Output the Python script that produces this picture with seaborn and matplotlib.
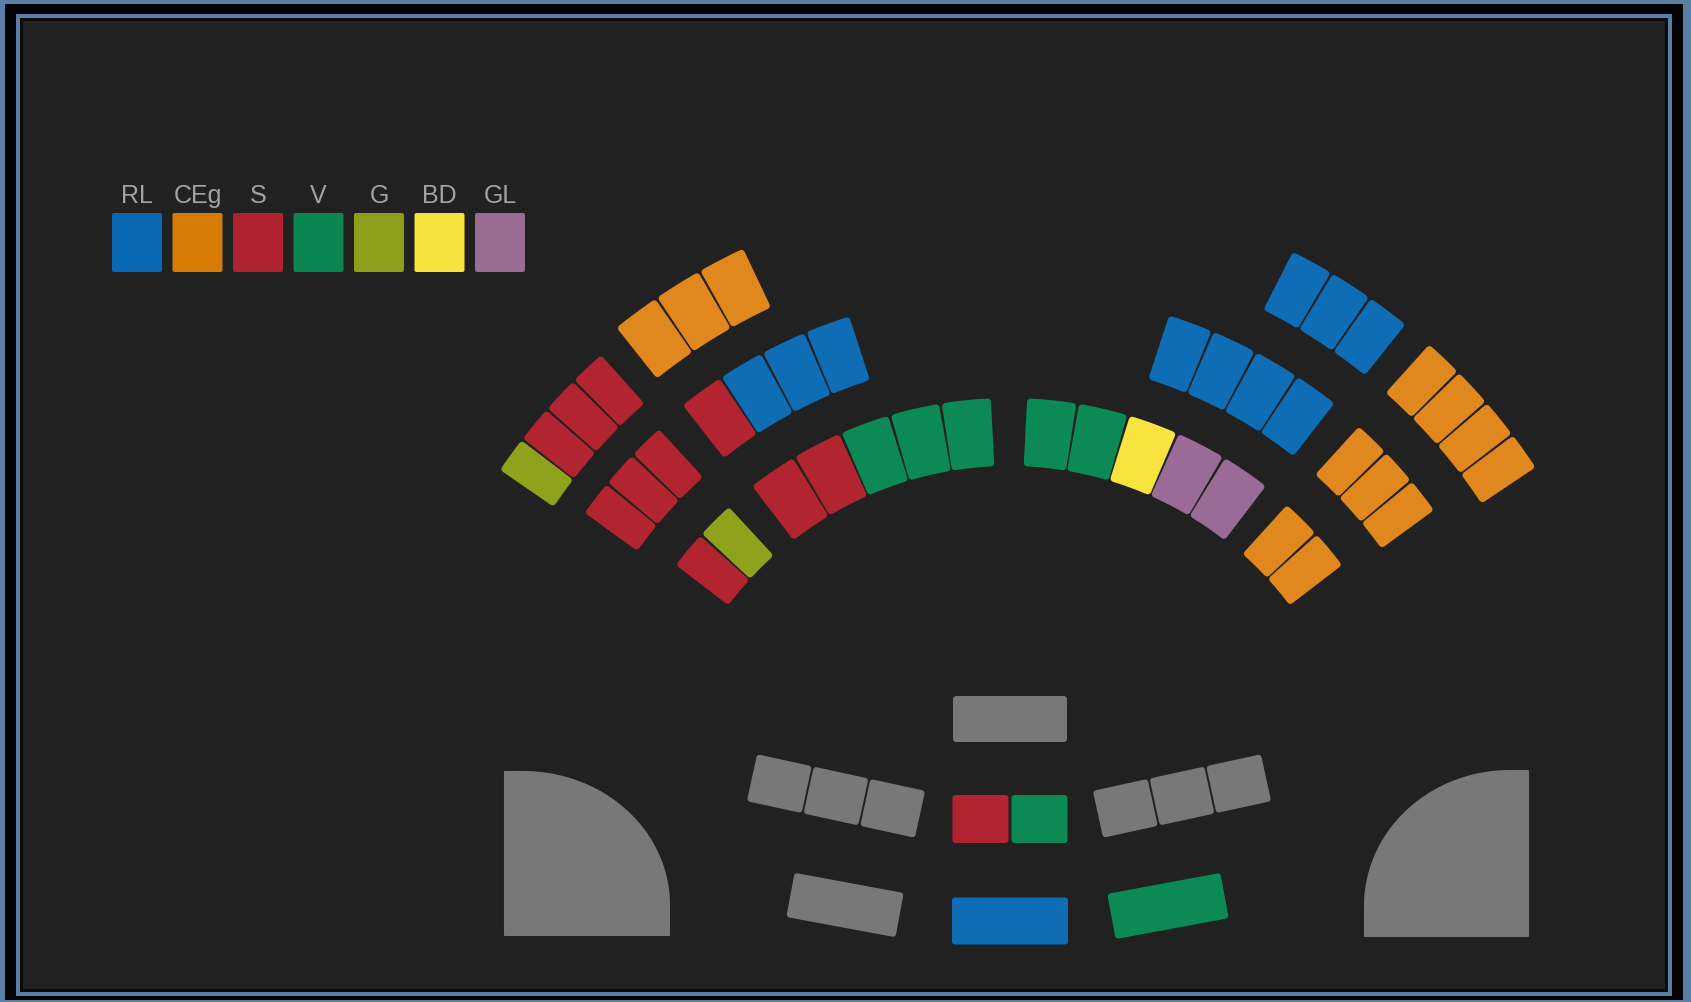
import numpy as np
import matplotlib
matplotlib.use("Agg")
import matplotlib.pyplot as plt
import matplotlib.transforms as mtransforms
from matplotlib.patches import Polygon, Rectangle, FancyBboxPatch
import seaborn as sns

# parties in legend order and their colours
parties = ["RL", "CEg", "S", "V", "G", "BD", "GL"]
seat_hex = ["#0e6db4", "#e0881d", "#b2242f", "#0b8a55", "#8fa21c", "#f8e33f", "#9b6b97"]
legend_hex = ["#0a68b3", "#d57b06", "#b0232e", "#0a8652", "#8c9e1a", "#f7e23e", "#9a6b93"]
GRAY = "#787878"

# hemicycle seats, block by block, listed from the centre aisle outwards
row1_left_a = ["V", "V", "V", "S", "S"]
row1_left_b = ["G", "S"]
row1_right_a = ["V", "V", "BD", "GL", "GL"]
row1_right_b = ["CEg", "CEg"]
row2_left_a = ["RL", "RL", "RL", "S"]
row2_left_b = ["S", "S", "S"]
row2_right_a = ["RL", "RL", "RL", "RL"]
row2_right_b = ["CEg", "CEg", "CEg"]
row3_left_a = ["CEg", "CEg", "CEg"]
row3_left_b = ["S", "S", "S", "G"]
row3_right_a = ["RL", "RL", "RL"]
row3_right_b = ["CEg", "CEg", "CEg", "CEg"]

# seats in front of the hemicycle (None = unassigned, grey)
presidium_top = [None]
bench_left = [None, None, None]
bench_right = [None, None, None]
centre_pair = ["S", "V"]
centre_bottom = ["RL"]
front_left = [None]
front_right = ["V"]

sns.set_theme(style="dark")
plt.rcParams["font.family"] = ["Liberation Sans", "DejaVu Sans"]
pal = dict(zip(parties, sns.color_palette(seat_hex)))
leg_pal = sns.color_palette(legend_hex)

W, H = 1691, 1002
fig = plt.figure(figsize=(W / 100, H / 100), dpi=100, facecolor="#030303")
ax = fig.add_axes([0, 0, 1, 1])
ax.set_xlim(0, W)
ax.set_ylim(H, 0)
ax.axis("off")

# frame
ax.add_patch(Rectangle((0, 0), W, H, fc="#5a7ea6", ec="none"))
ax.add_patch(Rectangle((5, 4), 1678, 996, fc="#030303", ec="none"))
ax.add_patch(Rectangle((16, 14), 1656, 982, fc="#5a7ea6", ec="none"))
ax.add_patch(Rectangle((20, 18), 1648, 974, fc="#0c0c0c", ec="none"))
ax.add_patch(Rectangle((23, 21), 1642, 968, fc="#212121", ec="none"))

CX, CY = 1009, 816
GAP, RR = 2, 3.5
LW = 2 * RR * 0.72


def colour(p):
    return GRAY if p is None else pal[p]


def draw_block(seats, side, r_c, depth, a_start, a_end):
    step = (a_end - a_start) / len(seats)
    r_in, r_out = r_c - depth / 2, r_c + depth / 2
    for k, p in enumerate(seats):
        a0 = side * (a_start + k * step)
        a1 = side * (a_start + (k + 1) * step)
        a0, a1 = sorted([a0, a1])
        ins = (GAP / 2 + RR) / r_c
        ts = np.linspace(np.radians(a0) + ins, np.radians(a1) - ins, 16)
        ri, ro = r_in + RR, r_out - RR
        outer = np.c_[CX + ro * np.sin(ts), CY - ro * np.cos(ts)]
        inner = np.c_[CX + ri * np.sin(ts[::-1]), CY - ri * np.cos(ts[::-1])]
        c = colour(p)
        ax.add_patch(Polygon(np.vstack([outer, inner]), closed=True, fc=c, ec=c,
                             lw=LW, joinstyle="round"))


# (seats, side, centre radius, depth, start angle, end angle)
blocks = [
    (row1_left_a, -1, 384, 68, 2.3, 38.1),
    (row1_left_b, -1, 384, 66, 42.0, 53.2),
    (row1_right_a, 1, 384, 68, 2.3, 38.1),
    (row1_right_b, 1, 384, 66, 41.6, 53.2),
    (row2_left_a, -1, 491, 67, 17.6, 38.6),
    (row2_left_b, -1, 489, 65, 42.0, 54.6),
    (row2_right_a, 1, 492, 67, 17.6, 38.4),
    (row2_right_b, 1, 491, 65, 41.8, 54.4),
    (row3_left_a, -1, 594, 65, 25.0, 38.9),
    (row3_left_b, -1, 583, 65, 41.4, 55.9),
    (row3_right_a, 1, 599, 65, 26.6, 39.0),
    (row3_right_b, 1, 599, 65, 41.6, 56.6),
]
for b in blocks:
    draw_block(*b)


def rot_box(xc, yc, w, h, ang, c):
    p = FancyBboxPatch((xc - w / 2 + RR, yc - h / 2 + RR), w - 2 * RR, h - 2 * RR,
                       boxstyle=f"round,pad={RR}", fc=c, ec="none")
    p.set_transform(mtransforms.Affine2D().rotate_deg_around(xc, yc, ang) + ax.transData)
    ax.add_patch(p)


def draw_row(seats, xc, yc, w, h, ang, pitch):
    n = len(seats)
    t = np.radians(ang)
    for k, p in enumerate(seats):
        off = (k - (n - 1) / 2) * pitch
        rot_box(xc + off * np.cos(t), yc + off * np.sin(t), w, h, ang, colour(p))


draw_row(presidium_top, 1010, 719, 114, 46, 0, 0)
draw_row(bench_left, 836, 796, 56, 48, 12.3, 58)
draw_row(bench_right, 1182, 796, 56, 48, -12.3, 58)
draw_row(centre_pair, 1010, 819, 56, 48, 0, 59)
draw_row(centre_bottom, 1010, 921, 116, 47, 0, 0)
draw_row(front_left, 845, 905, 111, 45, 10.5, 0)
draw_row(front_right, 1168, 906, 115, 46, -10.5, 0)


# the two quarter-round stands
def stand(x_flat, x_round, y_top, y_bot):
    s = np.sign(x_round - x_flat)
    yc = y_bot - 30
    rx, ry = abs(x_round - x_flat) - 18, yc - y_top
    ex = x_flat + s * 18
    ts = np.linspace(0, np.pi / 2, 40)
    arc = np.c_[ex + s * rx * np.sin(ts), yc - ry * np.cos(ts)]
    pts = np.vstack([[x_flat, y_bot], [x_flat, y_top], arc, [x_round, y_bot]])
    ax.add_patch(Polygon(pts, closed=True, fc=GRAY, ec=GRAY, lw=1.5, joinstyle="round"))


stand(505, 669, 772, 935)
stand(1528, 1365, 771, 936)

# legend
for i, (p, c) in enumerate(zip(parties, leg_pal)):
    x0 = 112 + i * 60.5
    ax.add_patch(FancyBboxPatch((x0 + 2, 215), 46, 55, boxstyle="round,pad=2",
                                fc=c, ec="none"))
    ax.text(x0 + 25, 203, p, ha="center", va="baseline", fontsize=18, color="#a3a3a3")

fig.savefig("out.png", dpi=100, facecolor=fig.get_facecolor())
